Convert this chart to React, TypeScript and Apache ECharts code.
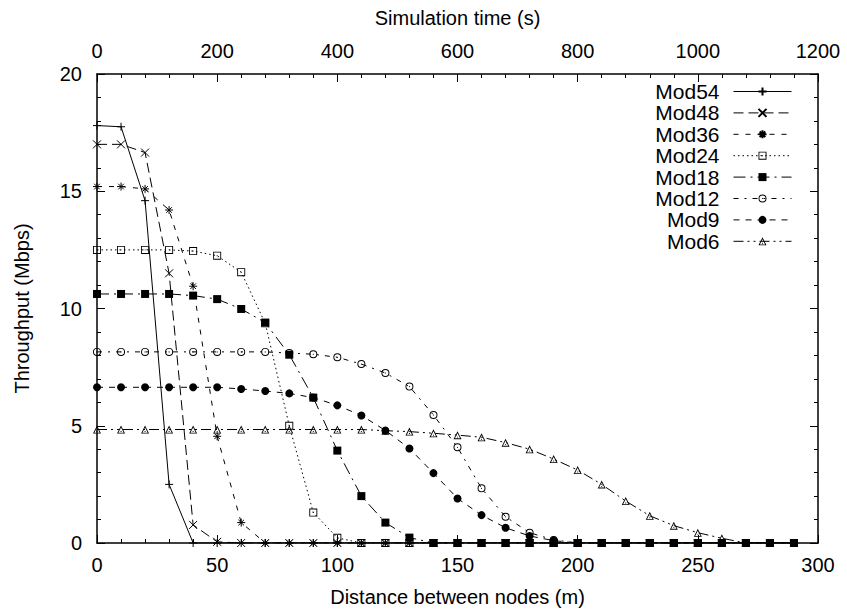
import React, { useEffect, useRef } from "react";
import * as echarts from "echarts";

const distances = [0, 10, 20, 30, 40, 50, 60, 70, 80, 90, 100, 110, 120, 130, 140, 150, 160, 170, 180, 190, 200, 210, 220, 230, 240, 250, 260, 270, 280, 290];

const mod54 = [17.8, 17.75, 14.6, 2.5, 0, 0, 0, 0, 0, 0, 0, 0, 0, 0, 0, 0, 0, 0, 0, 0, 0, 0, 0, 0, 0, 0, 0, 0, 0, 0];
const mod48 = [17.0, 17.0, 16.65, 11.5, 0.77, 0.05, 0, 0, 0, 0, 0, 0, 0, 0, 0, 0, 0, 0, 0, 0, 0, 0, 0, 0, 0, 0, 0, 0, 0, 0];
const mod36 = [15.2, 15.2, 15.1, 14.2, 10.95, 4.55, 0.87, 0, 0, 0, 0, 0, 0, 0, 0, 0, 0, 0, 0, 0, 0, 0, 0, 0, 0, 0, 0, 0, 0, 0];
const mod24 = [12.5, 12.5, 12.5, 12.5, 12.45, 12.25, 11.55, 9.37, 5.0, 1.3, 0.22, 0, 0, 0, 0, 0, 0, 0, 0, 0, 0, 0, 0, 0, 0, 0, 0, 0, 0, 0];
const mod18 = [10.62, 10.62, 10.62, 10.62, 10.55, 10.4, 9.98, 9.4, 8.03, 6.2, 3.94, 2.0, 0.87, 0.23, 0, 0, 0, 0, 0, 0, 0, 0, 0, 0, 0, 0, 0, 0, 0, 0];
const mod12 = [8.15, 8.15, 8.15, 8.15, 8.15, 8.15, 8.15, 8.15, 8.1, 8.05, 7.92, 7.63, 7.25, 6.67, 5.46, 4.08, 2.33, 1.12, 0.44, 0.13, 0, 0, 0, 0, 0, 0, 0, 0, 0, 0];
const mod9 = [6.64, 6.64, 6.64, 6.64, 6.64, 6.64, 6.57, 6.48, 6.38, 6.2, 5.87, 5.44, 4.8, 4.03, 2.98, 1.9, 1.19, 0.65, 0.3, 0.1, 0, 0, 0, 0, 0, 0, 0, 0, 0, 0];
const mod6 = [4.84, 4.84, 4.84, 4.84, 4.84, 4.84, 4.84, 4.84, 4.84, 4.84, 4.84, 4.84, 4.79, 4.75, 4.68, 4.6, 4.51, 4.28, 4.0, 3.58, 3.11, 2.5, 1.79, 1.16, 0.74, 0.44, 0.2, 0, 0, 0];

const seriesNames = ["Mod54", "Mod48", "Mod36", "Mod24", "Mod18", "Mod12", "Mod9", "Mod6"];
const seriesValues = [mod54, mod48, mod36, mod24, mod18, mod12, mod9, mod6];

const SYM_PLUS = "path://M0,5L10,5M5,0L5,10";
const SYM_X = "path://M0,0L10,10M0,10L10,0";
const SYM_STAR = "path://M0,5L10,5M5,0L5,10M1.5,1.5L8.5,8.5M1.5,8.5L8.5,1.5";
const SYM_OSQ = "path://M0,0H10V10H0Z M1.1,1.1V8.9H8.9V1.1Z M4.4,4.4H5.6V5.6H4.4Z";
const SYM_OCIRC =
  "path://M5,0A5,5 0 1,1 5,10A5,5 0 1,1 5,0Z M5,1.2A3.8,3.8 0 1,0 5,8.8A3.8,3.8 0 1,0 5,1.2Z M5,4.3A0.7,0.7 0 1,1 5,5.7A0.7,0.7 0 1,1 5,4.3Z";
const SYM_OTRI = "path://M5,0L10,9L0,9Z M5,2.3L1.7,8.1L8.3,8.1Z M4.4,6.2H5.6V7.2H4.4Z";

const styles: any[] = [
  { symbol: SYM_PLUS, dash: "solid", stroke: true },
  { symbol: SYM_X, dash: [10, 5], stroke: true },
  { symbol: SYM_STAR, dash: [5, 7], stroke: true },
  { symbol: SYM_OSQ, dash: [1.5, 3], stroke: false },
  { symbol: "rect", dash: [12, 5, 2, 5], stroke: false },
  { symbol: SYM_OCIRC, dash: [5, 6, 2, 6], stroke: false },
  { symbol: "circle", dash: [6, 6], stroke: false },
  { symbol: SYM_OTRI, dash: [10, 4, 2, 4, 2, 4], stroke: false },
];

const FONT = "Liberation Sans";

export default function App() {
  const ref = useRef<HTMLDivElement>(null);
  useEffect(() => {
    if (!ref.current) return;
    const chart = echarts.init(ref.current, null, { renderer: "svg" });
    const axisLine = { show: true, onZero: false, lineStyle: { color: "#000", width: 1.5 } };
    const axisTick = { show: true, inside: true, length: 8, lineStyle: { color: "#000", width: 1 } };
    const minorTick = { show: true, splitNumber: 5, length: 4, lineStyle: { color: "#000", width: 1 } };
    const label = { color: "#000", fontSize: 20, fontFamily: FONT, formatter: (v: number) => String(v) };
    const nameStyle = { color: "#000", fontSize: 20, fontFamily: FONT };

    const series = seriesNames.map((name, i) => ({
      name,
      type: "line",
      xAxisIndex: 0,
      yAxisIndex: 0,
      data: distances.map((d, j) => [d, seriesValues[i][j]]),
      symbol: styles[i].symbol,
      symbolSize: 8,
      showAllSymbol: true,
      lineStyle: { color: "#000", width: 1, type: styles[i].dash },
      itemStyle: {
        color: "#000",
        borderColor: "#000",
        borderWidth: styles[i].stroke ? 1 : 0,
      },
      emphasis: { disabled: true },
      z: 2 + i,
    }));

    chart.setOption({
      animation: false,
      backgroundColor: "#fff",
      textStyle: { fontFamily: FONT },
      grid: { left: 97, right: 29, top: 74, bottom: 71, containLabel: false },
      legend: {
        orient: "vertical",
        right: 55,
        top: 81,
        padding: 0,
        align: "right",
        itemWidth: 58,
        itemHeight: 10,
        itemGap: 0.4,
        data: seriesNames,
        lineStyle: { width: 1 },
        textStyle: { color: "#000", fontSize: 21, fontFamily: FONT, padding: [0, 9, 0, 0] },
        selectedMode: false,
      },
      xAxis: [
        {
          type: "value",
          position: "bottom",
          min: 0,
          max: 300,
          interval: 50,
          axisLine,
          axisTick,
          minorTick,
          splitLine: { show: false },
          axisLabel: { ...label, margin: 12 },
          name: "Distance between nodes (m)",
          nameLocation: "middle",
          nameGap: 44,
          nameTextStyle: nameStyle,
        },
        {
          type: "value",
          position: "top",
          min: 0,
          max: 1200,
          interval: 200,
          axisLine,
          axisTick,
          minorTick,
          splitLine: { show: false },
          axisLabel: { ...label, margin: 13 },
          name: "Simulation time (s)",
          nameLocation: "middle",
          nameGap: 46,
          nameTextStyle: nameStyle,
        },
      ],
      yAxis: [
        {
          type: "value",
          position: "left",
          min: 0,
          max: 20,
          interval: 5,
          axisLine,
          axisTick,
          minorTick,
          splitLine: { show: false },
          axisLabel: { ...label, margin: 15 },
          name: "Throughput (Mbps)",
          nameLocation: "middle",
          nameGap: 65,
          nameTextStyle: nameStyle,
        },
        {
          type: "value",
          position: "right",
          min: 0,
          max: 20,
          interval: 5,
          axisLine,
          axisTick,
          minorTick,
          splitLine: { show: false },
          axisLabel: { show: false },
        },
      ],
      series,
    });
    return () => chart.dispose();
  }, []);
  return (
    <div
      ref={ref}
      style={{ position: "fixed", left: 0, top: 0, width: 847, height: 614 }}
    />
  );
}
